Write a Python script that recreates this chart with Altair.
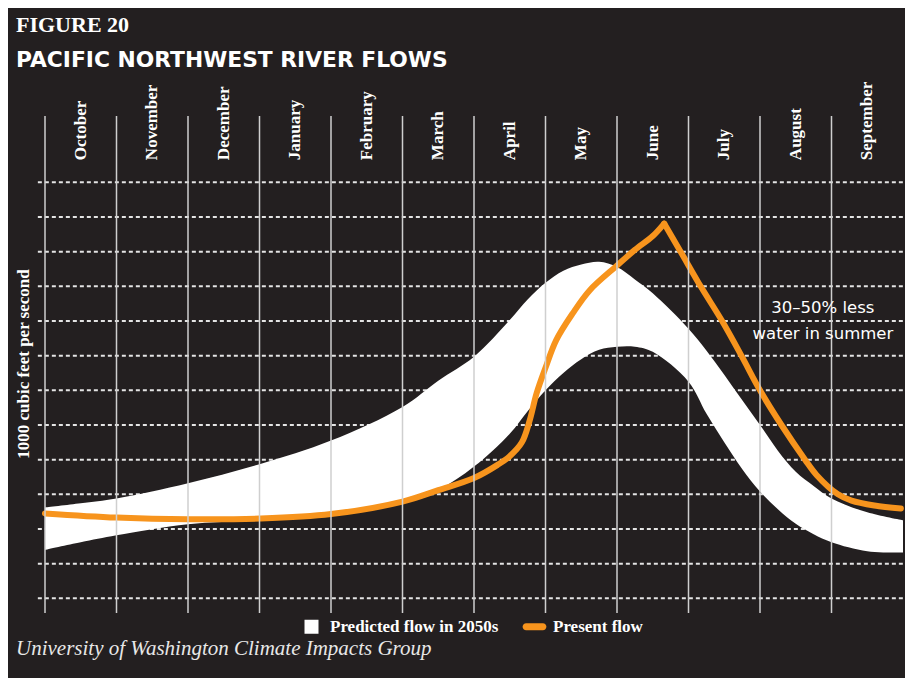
import altair as alt
import pandas as pd

# ---------------- data ----------------
months = ["October", "November", "December", "January", "February", "March",
          "April", "May", "June", "July", "August", "September"]

# predicted flow band (months since Oct 1, grid units)
band_x = [0, 0.5, 1, 2, 3, 4, 5, 5.5, 6, 6.5, 6.75, 7, 7.25, 7.5, 7.75, 8,
          8.25, 8.5, 9, 9.25, 9.5, 9.75, 10, 10.25, 10.5, 10.75, 11, 11.5, 12]
band_upper = [3.62, 3.74, 3.88, 4.32, 4.87, 5.55, 6.52, 7.28, 7.97, 9.03, 9.62,
              10.1, 10.45, 10.63, 10.71, 10.56, 10.2, 9.8, 8.78, 8.15, 7.45,
              6.72, 6.0, 5.26, 4.65, 4.24, 3.88, 3.48, 3.25]
band_lower = [2.40, 2.62, 2.82, 3.14, 3.25, 3.38, 3.74, 4.12, 4.8, 5.75, 6.4,
              7.0, 7.5, 7.9, 8.17, 8.26, 8.26, 8.11, 7.25, 6.33, 5.5, 4.73,
              4.08, 3.57, 3.15, 2.85, 2.62, 2.36, 2.32]

# present flow
line_x = [0, 1, 2, 3, 4, 5, 5.5, 6, 6.33, 6.5, 6.67, 6.78, 6.875, 7, 7.15,
          7.38, 7.62, 8, 8.25, 8.5, 8.66, 8.89, 9.17, 9.47, 9.74, 10.0, 10.3,
          10.63, 10.79, 11.09, 11.28, 11.6, 11.97]
line_y = [3.45, 3.33, 3.28, 3.30, 3.43, 3.79, 4.12, 4.47, 4.85, 5.1, 5.5,
          6.14, 6.91, 7.65, 8.45, 9.22, 9.89, 10.6, 11.05, 11.45, 11.81, 11.0,
          10.0, 9.0, 8.0, 7.0, 6.0, 5.0, 4.56, 4.0, 3.82, 3.68, 3.59]

grid_levels = list(range(1, 14))
month_lines = list(range(0, 12))

series_names = ["Predicted flow in 2050s", "Present flow"]

title_text = "FIGURE 20"
subtitle_text = "PACIFIC NORTHWEST RIVER FLOWS"
ytitle_text = "1000 cubic feet per second"
source_text = "University of Washington Climate Impacts Group"
note_text = "30\u201350% less\nwater in summer"

# ---------------- style ----------------
BG = "#231f20"
ORANGE = "#f7941d"
WHITE = "#ffffff"
SERIF = "Liberation Serif"
SANS = "DejaVu Sans"

xs = alt.Scale(domain=[0, 12], nice=False, zero=False)
ys = alt.Scale(domain=[0, 15], nice=False, zero=False)

# ---------------- layers ----------------
hgrid = alt.Chart(pd.DataFrame({"level": grid_levels})).mark_rule(
    color="#e4e4e4", strokeWidth=2, strokeDash=[4, 3]
).encode(
    x=alt.XDatum(-0.1, scale=xs, axis=None),
    x2=alt.X2Datum(12),
    y=alt.Y("level:Q", scale=ys, axis=None),
)

band_df = pd.DataFrame({"m": band_x, "upper": band_upper, "lower": band_lower})
band = alt.Chart(band_df).mark_area(
    color=WHITE, interpolate="catmull-rom", opacity=1
).encode(
    x=alt.X("m:Q", scale=xs, axis=None),
    y=alt.Y("upper:Q", scale=ys, axis=None),
    y2="lower:Q",
)

vlines = alt.Chart(pd.DataFrame({"pos": month_lines})).mark_rule(
    color="#cfcfcf", strokeWidth=1.5
).encode(
    x=alt.X("pos:Q", scale=xs, axis=None),
    y=alt.YDatum(14.91, scale=ys, axis=None),
    y2=alt.Y2Datum(0.58),
)

peak_i = line_y.index(max(line_y))
rows = []
for i, (xv, yv) in enumerate(zip(line_x, line_y)):
    if i <= peak_i:
        rows.append({"m": xv, "flow": yv, "seg": "rise"})
    if i >= peak_i:
        rows.append({"m": xv, "flow": yv, "seg": "fall"})
line = alt.Chart(pd.DataFrame(rows)).mark_line(
    color=ORANGE, strokeWidth=6, strokeCap="round", strokeJoin="round",
    interpolate="catmull-rom"
).encode(
    x=alt.X("m:Q", scale=xs, axis=None),
    y=alt.Y("flow:Q", scale=ys, axis=None),
    detail="seg:N",
    order="m:Q",
)

month_df = pd.DataFrame({"month": months, "m": [k + 0.5 for k in range(12)]})
month_labels = alt.Chart(month_df).mark_text(
    angle=270, align="left", baseline="middle", font=SERIF,
    fontWeight="bold", fontSize=17, color=WHITE
).encode(
    x=alt.X("m:Q", scale=xs, axis=None),
    y=alt.YDatum(13.64, scale=ys, axis=None),
    text="month:N",
)

note = alt.Chart(pd.DataFrame({"t": [note_text]})).mark_text(
    align="center", baseline="alphabetic", font=SANS, fontSize=16.5,
    color=WHITE, lineBreak="\n", lineHeight=26
).encode(
    x=alt.XDatum(10.88, scale=xs, axis=None),
    y=alt.YDatum(9.23, scale=ys, axis=None),
    text="t:N",
)

ytitle = alt.Chart(pd.DataFrame({"t": [ytitle_text]})).mark_text(
    angle=270, align="center", baseline="middle", font=SERIF,
    fontWeight="bold", fontSize=17, color=WHITE
).encode(x=alt.value(-21), y=alt.value(251), text="t:N")

fig_title = alt.Chart(pd.DataFrame({"t": [title_text]})).mark_text(
    align="left", baseline="alphabetic", font=SERIF, fontWeight="bold",
    fontSize=22, color=WHITE
).encode(x=alt.value(-29), y=alt.value(-81), text="t:N")

fig_sub = alt.Chart(pd.DataFrame({"t": [subtitle_text]})).mark_text(
    align="left", baseline="alphabetic", font=SANS, fontWeight="bold",
    fontSize=21.8, color=WHITE
).encode(x=alt.value(-29), y=alt.value(-46), text="t:N")

source = alt.Chart(pd.DataFrame({"t": [source_text]})).mark_text(
    align="left", baseline="alphabetic", font=SERIF, fontStyle="italic",
    fontSize=21, color="#e8e8e8"
).encode(x=alt.value(-29), y=alt.value(542), text="t:N")

pill = "M-1.2,-0.5L1.2,-0.5A0.5,0.5 0 0 1 1.2,0.5L-1.2,0.5A0.5,0.5 0 0 1 -1.2,-0.5Z"
leg = alt.Legend(
    title=None, orient="none", legendX=258, legendY=505,
    direction="horizontal", labelFont=SERIF, labelFontWeight="bold",
    labelFontSize=17, labelColor=WHITE, labelLimit=400, symbolSize=196,
    symbolStrokeWidth=0, labelOffset=10, columnPadding=23, padding=0,
    symbolOpacity=1,
)
legend_layer = alt.Chart(pd.DataFrame({"series": series_names})).transform_filter(
    "false"
).mark_point(filled=True, opacity=1).encode(
    x=alt.value(0),
    y=alt.value(0),
    color=alt.Color("series:N",
                    scale=alt.Scale(domain=series_names, range=[WHITE, ORANGE]),
                    legend=leg),
    shape=alt.Shape("series:N",
                    scale=alt.Scale(domain=series_names, range=["square", pill]),
                    legend=leg),
)

chart = alt.layer(
    hgrid, band, line, vlines, month_labels, note, ytitle, fig_title, fig_sub,
    source, legend_layer
).properties(
    width=858,
    height=520,
    background=BG,
    padding={"left": 37, "top": 105, "right": 2, "bottom": 45},
    autosize=alt.AutoSizeParams(type="none"),
).configure_view(stroke=None)

chart.save("out.html", embed_options={"renderer": "svg", "actions": False})
